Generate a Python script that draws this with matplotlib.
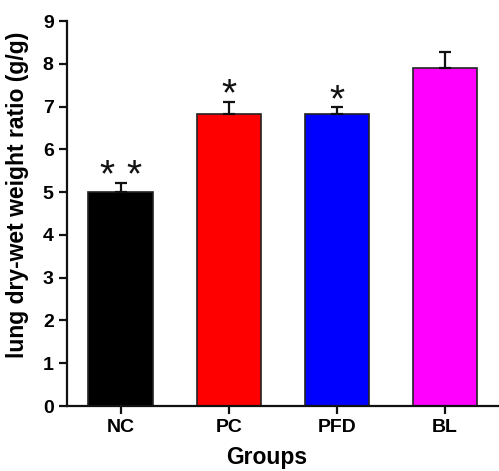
import matplotlib
matplotlib.use("Agg")
import matplotlib.pyplot as plt

groups = ["NC", "PC", "PFD", "BL"]
means = [5.01, 6.82, 6.83, 7.90]
errs = [0.21, 0.30, 0.16, 0.39]
colors = ["#000000", "#ff0000", "#0000ff", "#ff00ff"]
# stars per bar as offsets from bar centre
star_offsets = [[-0.125, 0.125], [0.0], [0.0], []]

plt.rcParams["font.family"] = ["Liberation Sans", "DejaVu Sans"]

fig = plt.figure(figsize=(4.99, 4.71), dpi=100)
ax = fig.add_axes([0.134, 0.138, 0.866, 0.817])

x = range(len(groups))
ax.bar(x, means, width=0.6, color=colors, edgecolor="#222222", linewidth=1.2, zorder=2)
ax.errorbar(x, means, yerr=[[0] * len(errs), errs], fmt="none", ecolor="#111111",
            elinewidth=1.6, capsize=4, capthick=1.6, zorder=3)
for i, (m, e, offs) in enumerate(zip(means, errs, star_offsets)):
    for dx in offs:
        ax.text(i + dx, m + e - 0.28, "*", ha="center", va="bottom", fontsize=28,
                color="#111111")

ax.set_xlim(-0.5, 3.5)
ax.set_ylim(0, 9)
ax.set_yticks(range(10))
ax.set_xticks(list(x))
ax.set_xticklabels(groups)
for sp in ("top", "right"):
    ax.spines[sp].set_visible(False)
for sp in ("left", "bottom"):
    ax.spines[sp].set_linewidth(1.6)
    ax.spines[sp].set_color("#111111")
ax.tick_params(direction="out", length=5.5, width=1.6, color="#111111", labelsize=14, pad=4)
for lab in ax.get_xticklabels() + ax.get_yticklabels():
    lab.set_fontweight("bold")
ax.set_ylabel("lung dry-wet weight ratio (g/g)", fontsize=16.5, fontweight="bold")
ax.yaxis.set_label_coords(-0.088, 0.548)
ax.set_xlabel("Groups", fontsize=16.5, fontweight="bold")
ax.xaxis.set_label_coords(0.463, -0.104)

fig.savefig("out.png", dpi=100)
